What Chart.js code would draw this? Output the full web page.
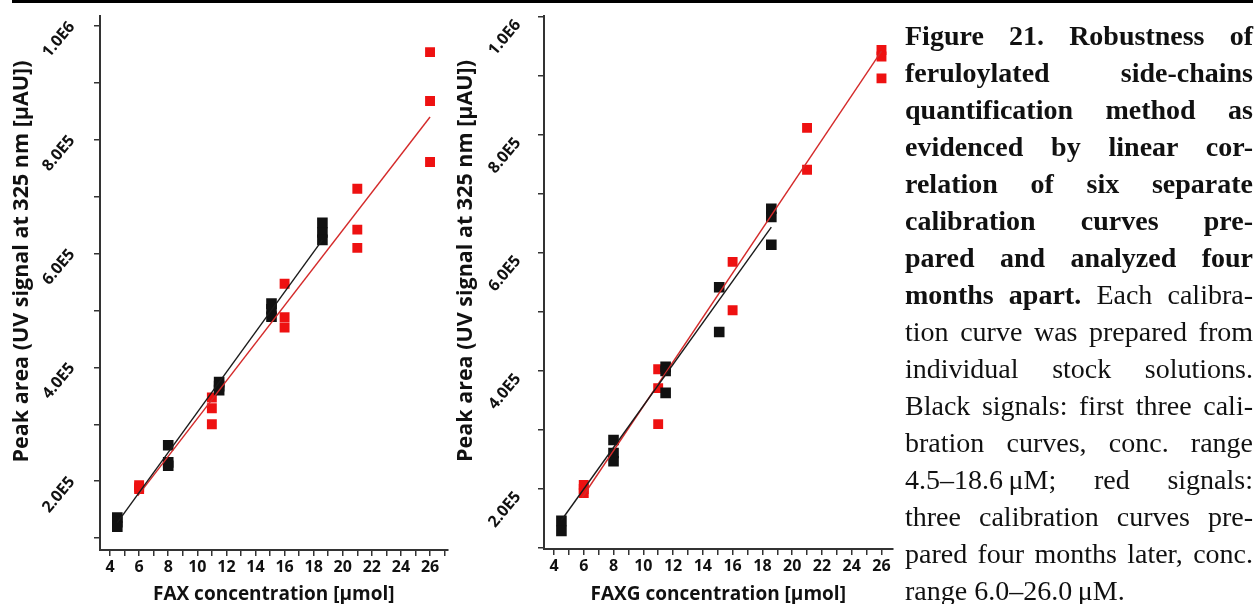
<!DOCTYPE html>
<html>
<head>
<meta charset="utf-8">
<script src="https://cdn.jsdelivr.net/npm/chart.js@4.4.1/dist/chart.umd.min.js"></script>
<style>
    html, body { margin: 0; padding: 0; background: #fff; }
    body { width: 1259px; height: 604px; position: relative; overflow: hidden; }
    #rule { position: absolute; left: 12px; top: 0; width: 1241px; height: 3px; background: #000; }
    .box { position: absolute; top: 0; height: 604px; }
    #caption {
        position: absolute; left: 905px; top: 17px; width: 348px;
        font-family: "Liberation Serif", serif; font-size: 28px; line-height: 37px; color: #111;
    }
    #caption div { text-align: justify; text-align-last: justify; }
    #caption div.last { text-align-last: left; }
    #caption .nb { display: inline-block; }
</style>
</head>
<body>
<div id="rule"></div>
<div class="box" style="left:0;width:455px;"><canvas id="faxChart"></canvas></div>
<div class="box" style="left:450px;width:450px;"><canvas id="faxgChart"></canvas></div>
<div id="caption">
    <div><b>Figure 21. Robustness of</b></div>
    <div><b>feruloylated side-chains</b></div>
    <div><b>quantification method as</b></div>
    <div><b>evidenced by linear cor-</b></div>
    <div><b>relation of six separate</b></div>
    <div><b>calibration curves pre-</b></div>
    <div><b>pared and analyzed four</b></div>
    <div><b>months apart.</b> Each calibra-</div>
    <div>tion curve was prepared from</div>
    <div>individual stock solutions.</div>
    <div>Black signals: first three cali-</div>
    <div>bration curves, conc. range</div>
    <div><span class="nb">4.5–18.6&#8239;μM;</span> red signals:</div>
    <div>three calibration curves pre-</div>
    <div>pared four months later, conc.</div>
    <div class="last">range <span class="nb">6.0–26.0&#8239;μM.</span></div>
</div>
<script>
// FAX calibration (left panel)
const faxBlackX = [4.5, 4.5, 4.5, 8, 8, 8, 11.5, 11.5, 11.5, 15.1, 15.1, 15.1, 18.6, 18.6, 18.6];
const faxBlackY = [1.36e5, 1.28e5, 1.20e5, 2.63e5, 2.33e5, 2.27e5, 3.74e5, 3.67e5, 3.60e5, 5.12e5, 5.02e5, 4.89e5, 6.54e5, 6.37e5, 6.24e5];
const faxRedX = [6, 6, 6, 11, 11, 11, 16, 16, 16, 21, 21, 21, 26, 26, 26];
const faxRedY = [1.93e5, 1.89e5, 1.86e5, 3.47e5, 3.28e5, 3.00e5, 5.47e5, 4.88e5, 4.70e5, 7.14e5, 6.42e5, 6.10e5, 9.54e5, 8.68e5, 7.61e5];
const faxBlackFitX = [4.5, 18.6];
const faxBlackFitY = [1.27e5, 6.24e5];
const faxRedFitX = [5.9, 26];
const faxRedFitY = [1.74e5, 8.40e5];

// FAXG calibration (right panel)
const faxgBlackX = [4.5, 4.5, 8, 8, 8, 11.5, 11.5, 11.5, 15.1, 15.1, 18.6, 18.6, 18.6];
const faxgBlackY = [1.46e5, 1.29e5, 2.83e5, 2.61e5, 2.47e5, 4.07e5, 4.00e5, 3.63e5, 5.42e5, 4.66e5, 6.75e5, 6.61e5, 6.14e5];
const faxgRedX = [6, 6, 6, 11, 11, 11, 16, 16, 21, 21, 26, 26, 26];
const faxgRedY = [2.07e5, 2.00e5, 1.93e5, 4.03e5, 3.71e5, 3.10e5, 5.85e5, 5.03e5, 8.12e5, 7.41e5, 9.44e5, 9.33e5, 8.96e5];
const faxgBlackFitX = [4.5, 18.6];
const faxgBlackFitY = [1.47e5, 6.44e5];
const faxgRedFitX = [5.9, 26];
const faxgRedFitY = [1.86e5, 9.42e5];

// tick positions (labels only on every second one)
const xTickValues = [4, 5, 6, 7, 8, 9, 10, 11, 12, 13, 14, 15, 16, 17, 18, 19, 20, 21, 22, 23, 24, 25, 26, 27];
const yTickValues = [1e5, 2e5, 3e5, 4e5, 5e5, 6e5, 7e5, 8e5, 9e5, 1e6];

const yTitle = '\u2003\u2003Peak area (UV signal at 325 nm [μAU])';
const sans = 'Open Sans';

function pts(xs, ys) {
    return xs.map((x, i) => ({ x: x, y: ys[i] }));
}

function sciLabel(v) {
    if (Math.round(v / 1e5) % 2 !== 0) return '';
    const e = Math.floor(Math.log10(v) + 1e-9);
    return (v / Math.pow(10, e)).toFixed(1) + 'E' + e;
}

function make_chart(id, cfg) {
    const ctx = document.getElementById(id).getContext('2d');
    const axisColor = '#333';
    return new Chart(ctx, {
        type: 'scatter',
        data: {
            datasets: [
                { data: pts(cfg.bFitX, cfg.bFitY), showLine: true, borderColor: '#1a1a1a', borderWidth: 1.4, pointRadius: 0, order: 1 },
                { data: pts(cfg.rFitX, cfg.rFitY), showLine: true, borderColor: '#d42a2a', borderWidth: 1.4, pointRadius: 0, order: 2 },
                { data: pts(cfg.bX, cfg.bY), pointStyle: 'rect', pointRadius: 7.5, backgroundColor: '#111', borderWidth: 0, order: 3 },
                { data: pts(cfg.rX, cfg.rY), pointStyle: 'rect', pointRadius: 7, backgroundColor: '#ee1111', borderWidth: 0, order: 4 }
            ]
        },
        options: {
            responsive: true,
            maintainAspectRatio: false,
            animation: false,
            layout: { padding: { top: 16, right: cfg.padRight, left: 0, bottom: 0 } },
            plugins: { legend: { display: false }, tooltip: { enabled: false } },
            scales: {
                x: {
                    type: 'linear',
                    min: cfg.xMin, max: cfg.xMax,
                    border: { color: axisColor, width: 2 },
                    grid: { drawOnChartArea: false, drawTicks: true, tickLength: 6, color: axisColor, lineWidth: 1.5 },
                    afterBuildTicks: s => { s.ticks = xTickValues.filter(v => v <= cfg.xMax).map(v => ({ value: v })); },
                    ticks: {
                        autoSkip: false, maxRotation: 0, padding: 2,
                        color: '#111', font: { family: sans, weight: 'bold', size: 16 },
                        callback: v => (v % 2 === 0 ? String(v) : '')
                    },
                    title: {
                        display: true, text: cfg.xTitle, color: '#111',
                        font: { family: sans, weight: 'bold', size: 19, lineHeight: 1 },
                        padding: { top: 0, bottom: 0 }
                    },
                    afterFit: s => { s.height = cfg.xHeight; s.paddingLeft = 0; s.paddingRight = 0; }
                },
                y: {
                    type: 'linear',
                    min: cfg.yMin, max: cfg.yMax,
                    border: { color: axisColor, width: 2 },
                    grid: { drawOnChartArea: false, drawTicks: true, tickLength: 6, color: axisColor, lineWidth: 1.5 },
                    afterBuildTicks: s => { s.ticks = yTickValues.map(v => ({ value: v })); },
                    ticks: {
                        autoSkip: false,
                        minRotation: 50, maxRotation: 50, padding: cfg.yPad, labelOffset: cfg.yLabelOffset,
                        color: '#111', font: { family: sans, weight: 'bold', size: 16 },
                        callback: sciLabel
                    },
                    title: {
                        display: true, text: yTitle, color: '#111',
                        font: { family: sans, weight: 'bold', size: 21.5, lineHeight: 1 },
                        padding: { top: cfg.yTitlePad, bottom: 0 }
                    },
                    afterFit: s => { s.width = cfg.yWidth; s.paddingTop = 0; s.paddingBottom = 0; }
                }
            }
        }
    });
}

make_chart('faxChart', {
    bX: faxBlackX, bY: faxBlackY, rX: faxRedX, rY: faxRedY,
    bFitX: faxBlackFitX, bFitY: faxBlackFitY, rFitX: faxRedFitX, rFitY: faxRedFitY,
    xMin: 3.31, xMax: 27.2, yMin: 0.79e5, yMax: 1.0175e6,
    xTitle: 'FAX concentration [μmol]',
    padRight: 7, xHeight: 54, yWidth: 100, yPad: 22, yLabelOffset: -2, yTitlePad: 11
});

make_chart('faxgChart', {
    bX: faxgBlackX, bY: faxgBlackY, rX: faxgRedX, rY: faxgRedY,
    bFitX: faxgBlackFitX, bFitY: faxgBlackFitY, rFitX: faxgRedFitX, rFitY: faxgRedFitY,
    xMin: 3.33, xMax: 26.74, yMin: 0.983e5, yMax: 1.0017e6,
    xTitle: 'FAXG concentration [μmol]',
    padRight: 7, xHeight: 55, yWidth: 94, yPad: 20, yLabelOffset: 5, yTitlePad: 5
});
</script>
</body>
</html>
